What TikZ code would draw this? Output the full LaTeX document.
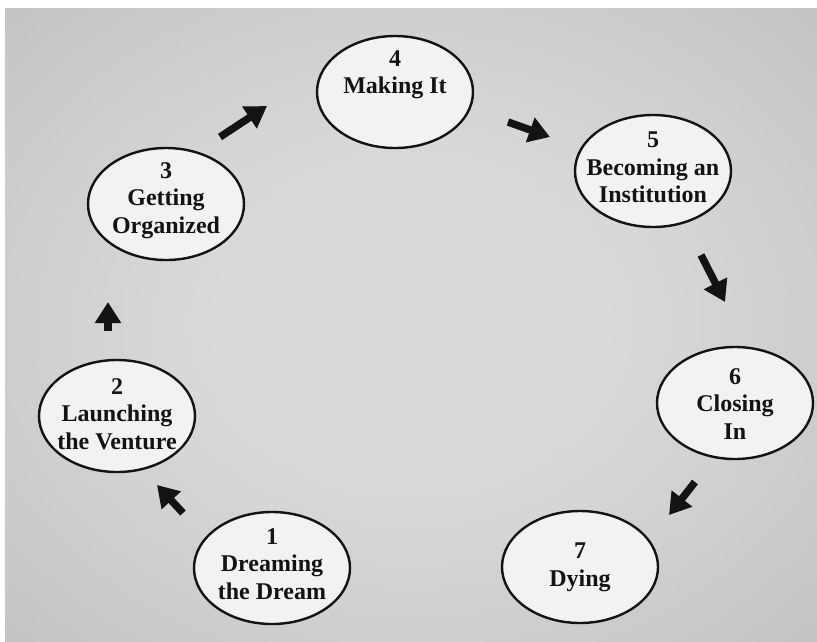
\documentclass[tikz,border=0pt]{standalone}
\usepackage{fontspec}
\setmainfont{Liberation Serif}
\usetikzlibrary{shapes.geometric,arrows.meta}
\definecolor{paperlight}{HTML}{DADADA}
\definecolor{paperdark}{HTML}{A2A2A2}
\definecolor{ovalfill}{HTML}{F2F2F2}
\definecolor{ink}{HTML}{131313}
% soft light patch in the middle of the grey card
\pgfdeclareradialshading{paperglow}{\pgfpoint{0bp}{0bp}}{color(0bp)=(paperlight); color(12bp)=(paperlight); color(72bp)=(paperdark)}

\begin{document}
\begin{tikzpicture}[x=1pt,y=-1pt,
  stage/.style={ellipse, draw=ink, line width=2.4pt, fill=ovalfill,
    minimum width=156pt, minimum height=112pt, inner sep=0pt},
  stagetext/.style={anchor=north, align=center, inner sep=0pt, text=ink,
    font=\bfseries\fontsize{24}{27.5}\selectfont},
  flow/.style={draw=ink, line width=7.5pt, -{Triangle[width=25pt,length=21pt]}}
]
\useasboundingbox (0,0) rectangle (817,641);
\fill[white] (0,0) rectangle (817,641);
\shade[shading=paperglow] (5,8) rectangle (817,641);

% the seven stages
\node[stage] (s1) at (272,568) {};
\node[stage] (s2) at (117,416) {};
\node[stage] (s3) at (166,204) {};
\node[stage] (s4) at (395,92) {};
\node[stage] (s5) at (653,171) {};
\node[stage] (s6) at (735,403) {};
\node[stage] (s7) at (580,567) {};

\node[stagetext] (t1) at (272,528) {1\\Dreaming\\the Dream};
\node[stagetext] (t2) at (117,378) {2\\Launching\\the Venture};
\node[stagetext] (t3) at (166,162) {3\\Getting\\Organized};
\node[stagetext] (t4) at (395,50) {4\\Making It};
\node[stagetext] (t5) at (653,132) {5\\Becoming an\\Institution};
\node[stagetext] (t6) at (735,368) {6\\Closing\\In};
\node[stagetext] (t7) at (580,543) {7\\Dying};

% short arrows between neighbouring stages
\coordinate (a12s) at (183,513); \coordinate (a12e) at (157,485);
\coordinate (a23s) at (108,331); \coordinate (a23e) at (108,302);
\coordinate (a34s) at (220,137); \coordinate (a34e) at (267,106);
\coordinate (a45s) at (508,122); \coordinate (a45e) at (550,137);
\coordinate (a56s) at (701,255); \coordinate (a56e) at (725,302);
\coordinate (a67s) at (695,482); \coordinate (a67e) at (669,515);

\draw[flow] (a12s) -- (a12e);
\draw[flow] (a23s) -- (a23e);
\draw[flow] (a34s) -- (a34e);
\draw[flow] (a45s) -- (a45e);
\draw[flow] (a56s) -- (a56e);
\draw[flow] (a67s) -- (a67e);
\end{tikzpicture}
\end{document}
